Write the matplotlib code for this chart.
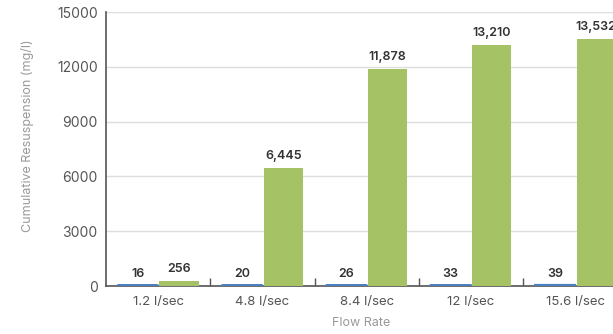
import matplotlib
matplotlib.use("Agg")
import matplotlib.pyplot as plt
import numpy as np
from matplotlib.ticker import FixedLocator

categories = ["1.2 l/sec", "4.8 l/sec", "8.4 l/sec", "12 l/sec", "15.6 l/sec"]
series_blue = [16, 20, 26, 33, 39]
series_green = [256, 6445, 11878, 13210, 13532]
yticks = [0, 3000, 6000, 9000, 12000, 15000]

plt.rcParams['font.family'] = ['Inter', 'DejaVu Sans']

W, H = 613, 334
fig = plt.figure(figsize=(W / 100, H / 100), dpi=100)
left, right = 106 / W, 627.5 / W
bottom, top = (H - 286) / H, (H - 12) / H
ax = fig.add_axes([left, bottom, right - left, top - bottom])

x = np.arange(len(categories))
bw = 0.375
blue = "#4a7fc0"
green = "#a5c364"
bars_b = ax.bar(x - 0.195, series_blue, width=bw, color=blue, edgecolor=blue,
                linewidth=2.0, zorder=6)
for p in bars_b:
    p.set_snap(False)
ax.bar(x + 0.2, series_green, width=bw, color=green, edgecolor='none', zorder=6)

for xi, v in zip(x, series_blue):
    ax.text(xi - 0.195, v + 300, f"{v:,}", ha='center', va='bottom', fontsize=9,
            fontweight='semibold', color='#333333', zorder=7)
for xi, v in zip(x, series_green):
    ax.text(xi + 0.2, v + 330, f"{v:,}", ha='center', va='bottom', fontsize=9,
            fontweight='semibold', color='#333333', zorder=7)

ax.set_xlim(-0.5, len(categories) - 0.5)
ax.set_ylim(0, 15000)
ax.set_yticks(yticks)
ax.set_yticklabels([str(t) for t in yticks])
ax.set_xticks(x)
ax.set_xticklabels(categories)
ax.xaxis.set_minor_locator(FixedLocator(np.arange(0.5, len(categories), 1.0)))

ax.tick_params(axis='y', length=0, pad=6, labelsize=10, labelcolor='#555555')
ax.tick_params(axis='x', which='major', length=0, pad=7, labelsize=9.5, labelcolor='#555555')
ax.tick_params(axis='x', which='minor', direction='in', length=6, width=1, color='#555555')

ax.grid(axis='y', color='#dddddd', linewidth=1, zorder=0)
ax.set_axisbelow(True)
for s in ['top', 'right']:
    ax.spines[s].set_visible(False)
for s in ['left', 'bottom']:
    ax.spines[s].set_color('#555555')
    ax.spines[s].set_linewidth(1.2)
    ax.spines[s].set_zorder(5)

ax.set_ylabel("Cumulative Resuspension (mg/l)", fontsize=9, color='#999999')
ax.set_xlabel("Flow Rate", fontsize=9, color='#999999')
ax.yaxis.set_label_coords((28 - 106) / (627.5 - 106), (286 - 136) / 274)
ax.xaxis.set_label_coords((361 - 106) / (627.5 - 106), -(323 - 286) / 274)
ax.xaxis.label.set_va('center')
ax.yaxis.label.set_va('center')

fig.savefig("out.png", dpi=100)
